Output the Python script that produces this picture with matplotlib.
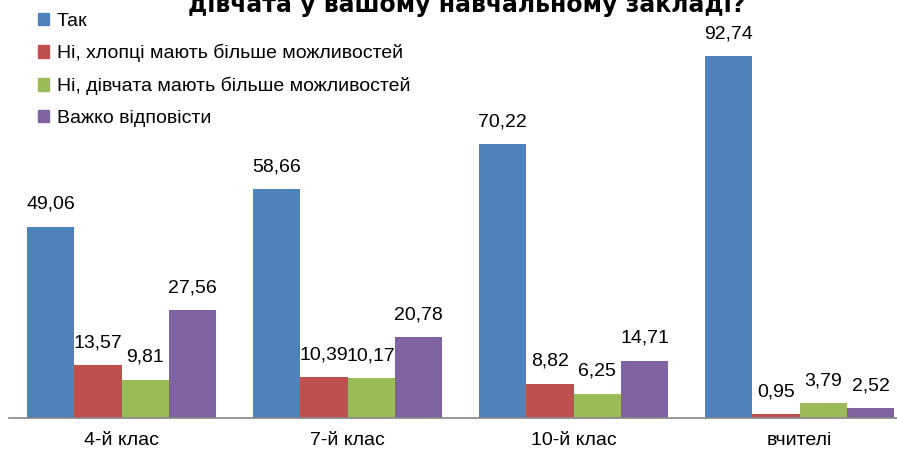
import matplotlib
matplotlib.use("Agg")
import matplotlib.pyplot as plt
from matplotlib.patches import Patch
import numpy as np

plt.rcParams['font.family'] = ['Liberation Sans', 'DejaVu Sans']

categories = ["4-й клас", "7-й клас", "10-й клас", "вчителі"]
series_names = ["Так", "Ні, хлопці мають більше можливостей",
                "Ні, дівчата мають більше можливостей", "Важко відповісти"]
tak = [49.06, 58.66, 70.22, 92.74]
boys = [13.57, 10.39, 8.82, 0.95]
girls = [9.81, 10.17, 6.25, 3.79]
hard = [27.56, 20.78, 14.71, 2.52]
title = "Чи мають однакові можливості хлопці та\nдівчата у вашому навчальному закладі?"

colors = ["#4F81BD", "#C0504D", "#9BBB59", "#8064A2"]
W, H = 897, 455
fig = plt.figure(figsize=(W / 100, H / 100), dpi=100)
ax = fig.add_axes([8.5 / W, (H - 418) / H, 904 / W, 390.3 / H])

series = [tak, boys, girls, hard]
x = np.arange(len(categories))
bw = 47.3 / 226
for i, (vals, c) in enumerate(zip(series, colors)):
    pos = x + (i - 1.5) * bw
    bars = ax.bar(pos, vals, width=bw, color=c, edgecolor='none')
    for xp, v in zip(pos, vals):
        ax.annotate(f"{v:.2f}".replace('.', ','), (xp, v), xytext=(0, 10),
                    textcoords='offset points', ha='center', va='bottom',
                    fontsize=14, color='black')

ax.set_xlim(-0.5, 3.5)
ax.set_ylim(0, 100)
ax.set_xticks(x)
ax.set_xticklabels(categories, fontsize=14)
ax.tick_params(axis='x', length=0, pad=10)
ax.set_yticks([])
for s in ['top', 'right', 'left']:
    ax.spines[s].set_visible(False)
ax.spines['bottom'].set_color('#868686')
ax.spines['bottom'].set_linewidth(1.2)

fig.text(467 / W, 1 - 12 / H, title, ha='center', va='baseline',
         fontsize=17, fontweight='bold', family=['DejaVu Sans'], linespacing=1.2)

handles = [Patch(color=c) for c in colors]
fig.legend(handles, series_names, loc='upper left',
           bbox_to_anchor=(20 / W, 1 + 5 / H), frameon=False,
           fontsize=14, handlelength=0.6, handleheight=0.6, handletextpad=0.4,
           labelspacing=0.75)

fig.savefig("out.png", dpi=100)
